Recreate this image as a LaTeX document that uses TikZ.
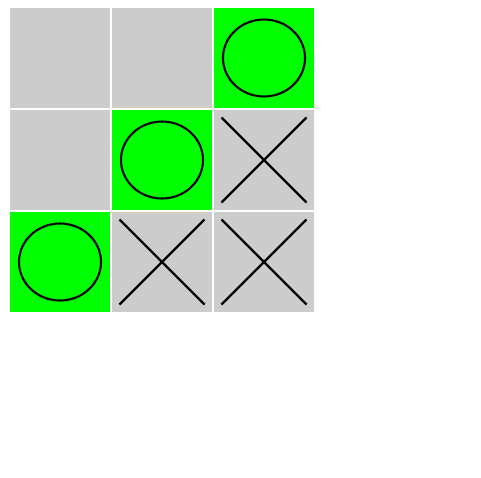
\documentclass[tikz,border=0pt]{standalone}
\definecolor{cellgray}{HTML}{CCCCCC}
\definecolor{cellgreen}{HTML}{00FF00}
\begin{document}
\begin{tikzpicture}[x=1pt,y=-1pt,
  cell/.style={minimum width=100pt,minimum height=100pt,inner sep=0pt,outer sep=0pt,draw=none},
  graycell/.style={cell,fill=cellgray},
  greencell/.style={cell,fill=cellgreen},
  omark/.style={draw=black,line width=2.1pt},
  xmark/.style={draw=black,line width=2.4pt}]
\useasboundingbox[fill=white] (0,0) rectangle (481,477);
% cell centres: x 60,162,264 ; y 58,160,262
\node[graycell]  (c11) at (60,58) {};
\node[graycell]  (c12) at (162,58) {};
\node[greencell] (c13) at (264,58) {};
\node[graycell]  (c21) at (60,160) {};
\node[greencell] (c22) at (162,160) {};
\node[graycell]  (c23) at (264,160) {};
\node[greencell] (c31) at (60,262) {};
\node[graycell]  (c32) at (162,262) {};
\node[graycell]  (c33) at (264,262) {};
% O marks
\foreach \c in {c13,c22,c31}{
  \draw[omark] (\c.center) ellipse [x radius=41, y radius=38.5];
}
% X marks
\foreach \c in {c23,c32,c33}{
  \draw[xmark] ([shift={(-42.5,-42.5)}]\c.center) -- ([shift={(42.5,42.5)}]\c.center);
  \draw[xmark] ([shift={(-42.5,42.5)}]\c.center) -- ([shift={(42.5,-42.5)}]\c.center);
}
\end{tikzpicture}
\end{document}
